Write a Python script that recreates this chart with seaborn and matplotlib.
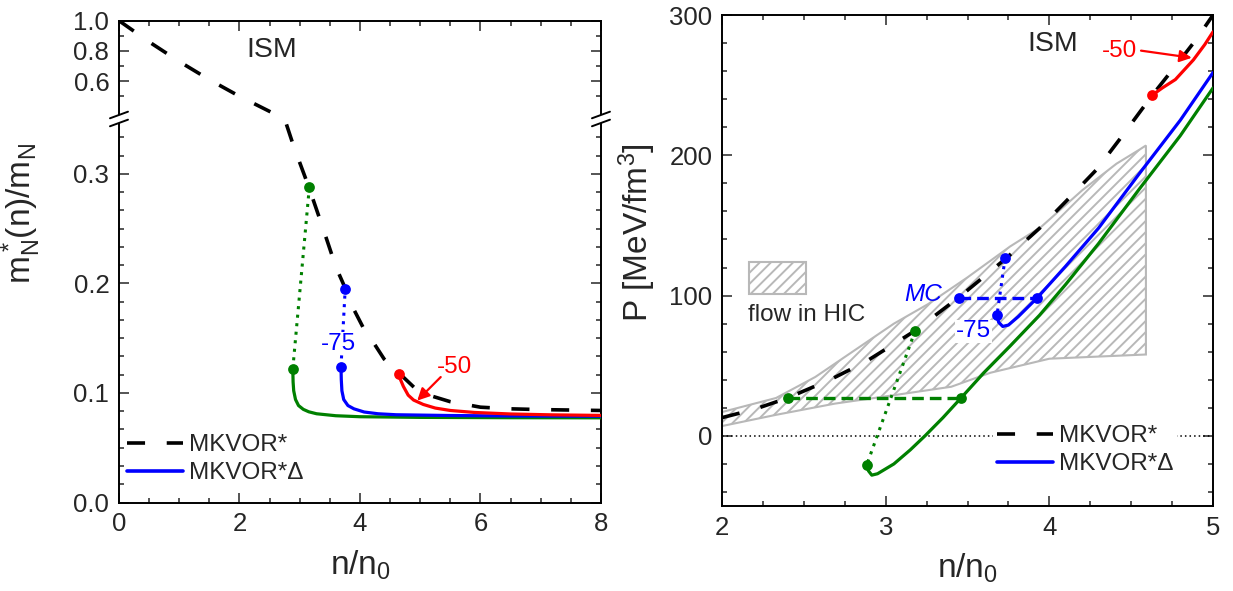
import numpy as np
import matplotlib
matplotlib.use("Agg")
import matplotlib.pyplot as plt
import seaborn as sns
from matplotlib.lines import Line2D
from matplotlib.patches import Rectangle
from matplotlib.ticker import FixedLocator, MultipleLocator

# ---------------- left panel: m*_N(n)/m_N ----------------
mass_n_mkvor = [0, 0.5, 1.0, 1.5, 2.0, 2.5, 2.75, 2.9, 3.15, 3.4, 3.6, 3.76, 3.9, 4.05,
                4.2, 4.4, 4.67, 4.9, 5.2, 5.5, 6.0, 6.5, 7.0, 8.0]
mass_mkvor = [1.0, 0.86, 0.73, 0.61, 0.50, 0.40, 0.35, 0.325, 0.288, 0.248, 0.215, 0.195,
              0.176, 0.16, 0.148, 0.131, 0.117, 0.105, 0.097, 0.092, 0.087, 0.0855, 0.0848, 0.084]

mass_n_green = [2.885, 2.89, 2.90, 2.93, 2.98, 3.06, 3.15, 3.28, 3.6, 4.0, 5.0, 6.5, 8.0]
mass_green = [0.122, 0.110, 0.102, 0.094, 0.0885, 0.085, 0.0828, 0.081, 0.0792, 0.0783,
              0.0777, 0.0774, 0.0773]
mass_n_blue = [3.685, 3.69, 3.70, 3.73, 3.80, 3.9, 4.07, 4.3, 4.6, 5.5, 6.5, 8.0]
mass_blue = [0.1237, 0.112, 0.102, 0.094, 0.0885, 0.0855, 0.0826, 0.081, 0.0801, 0.0794,
             0.079, 0.0788]
mass_n_red = [4.65, 4.67, 4.72, 4.80, 4.89, 5.05, 5.25, 5.5, 5.9, 6.5, 7.2, 8.0]
mass_red = [0.117, 0.1125, 0.106, 0.098, 0.0935, 0.0895, 0.0862, 0.084, 0.0822, 0.0808,
            0.080, 0.0795]

# jumps (dotted) between the branches
mass_jump_green_n = [2.885, 3.16]
mass_jump_green = [0.122, 0.288]
mass_jump_blue_n = [3.685, 3.755]
mass_jump_blue = [0.1237, 0.195]
mass_dot_red = (4.65, 0.117)

# ---------------- right panel: pressure P(n) ----------------
p_n_mkvor = [2.0, 2.2, 2.4, 2.66, 2.88, 3.18, 3.45, 3.73, 3.94, 4.1, 4.29, 4.44, 4.63, 4.80, 4.90, 5.0]
p_mkvor = [13, 19, 27, 40, 53, 75, 99, 126, 148, 167, 190, 213, 243, 268, 283, 300]

p_n_green = [2.884, 2.895, 2.915, 2.95, 3.05, 3.15, 3.24, 3.35, 3.46, 3.6, 3.76, 3.94,
             4.1, 4.3, 4.55, 4.8, 5.0]
p_green = [-20.7, -25, -28, -27, -20, -10, 0, 13, 27, 45, 64, 86, 108, 137, 176, 214, 248]
p_n_blue = [3.68, 3.69, 3.715, 3.75, 3.81, 3.925, 4.1, 4.3, 4.55, 4.8, 5.0]
p_blue = [86, 81, 78, 79, 85, 98.3, 121, 148, 187, 225, 259]
p_n_red = [4.63, 4.69, 4.77, 4.88, 4.95, 5.0]
p_red = [243, 248, 254, 268, 279, 288]

# Maxwell construction and jumps
p_mc_green_n = [2.40, 3.46]
p_mc_green = [27, 27]
p_jump_green_n = [3.18, 2.884]
p_jump_green = [75, -20.7]
p_mc_blue_n = [3.45, 3.925]
p_mc_blue = [98.3, 98.3]
p_jump_blue_n = [3.73, 3.68]
p_jump_blue = [127, 86]
p_dot_red = (4.63, 243)

# flow constraint from heavy-ion collisions
flow_up_n = [2.0, 2.33, 2.57, 2.81, 3.05, 3.26, 3.5, 3.76, 3.95, 4.2, 4.41, 4.55, 4.59]
flow_up = [17, 27, 42, 61, 80, 94, 113, 135, 149, 175, 194, 204, 207]
flow_lo_n = [2.0, 2.33, 2.69, 3.05, 3.40, 3.64, 4.0, 4.59]
flow_lo = [7, 15, 23, 29, 35, 45, 55, 58]

GREEN, BLUE, RED, GRAY = "#008000", "#0000ff", "#ff0000", "#b8b8b8"
DASH = (0, (5, 6))
DOTS = (0, (1, 1.8))
MCDASH = (0, (3.5, 1.8))

sns.set_style("ticks")
plt.rcParams["font.family"] = ["Liberation Sans", "DejaVu Sans"]
plt.rcParams["mathtext.fontset"] = "custom"
plt.rcParams["mathtext.rm"] = "Liberation Sans"
plt.rcParams["mathtext.it"] = "Liberation Sans:italic"
plt.rcParams["mathtext.default"] = "regular"
plt.rcParams["hatch.color"] = GRAY
plt.rcParams["hatch.linewidth"] = 1.4

fig = plt.figure(figsize=(12.33, 5.91), dpi=100)
ax1 = fig.add_axes([0.0965, 0.1497, 0.3909, 0.8153])
ax2 = fig.add_axes([0.5856, 0.1438, 0.3982, 0.8308])


def line(ax, x, y, color, ls="-", lw=2.3, z=3):
    sns.lineplot(x=x, y=y, ax=ax, color=color, lw=lw, linestyle=ls, sort=False,
                 estimator=None, zorder=z)


def dots(ax, x, y, color):
    sns.scatterplot(x=x, y=y, ax=ax, color=color, s=60, linewidth=0, zorder=6)


def style_axis(ax):
    ax.tick_params(which="both", direction="in", top=True, right=True,
                   width=1.1, labelsize=18.5, pad=7)
    ax.tick_params(which="major", length=7)
    ax.tick_params(which="minor", length=3.6)
    for sp in ax.spines.values():
        sp.set_linewidth(1.4)
        sp.set_color("black")


# ---------- left panel ----------
BRK, K = 0.35, 0.138


def fwd(y):
    y = np.asarray(y, dtype=float)
    return np.where(y <= BRK, y, BRK + (y - BRK) * K)


def inv(u):
    u = np.asarray(u, dtype=float)
    return np.where(u <= BRK, u, BRK + (u - BRK) / K)


ax1.set_yscale("function", functions=(fwd, inv))
line(ax1, mass_n_mkvor, mass_mkvor, "black", DASH, lw=2.6)
line(ax1, mass_n_green, mass_green, GREEN)
line(ax1, mass_n_blue, mass_blue, BLUE)
line(ax1, mass_n_red, mass_red, RED)
line(ax1, mass_jump_green_n, mass_jump_green, GREEN, DOTS, lw=2.2)
line(ax1, mass_jump_blue_n, mass_jump_blue, BLUE, DOTS, lw=2.2)
dots(ax1, mass_jump_green_n, mass_jump_green, GREEN)
dots(ax1, mass_jump_blue_n, mass_jump_blue, BLUE)
dots(ax1, [mass_dot_red[0]], [mass_dot_red[1]], RED)

ax1.set_xlim(0, 8)
ax1.set_ylim(0, 1.0)
ax1.xaxis.set_major_locator(MultipleLocator(2))
ax1.xaxis.set_minor_locator(MultipleLocator(0.5))
ax1.yaxis.set_major_locator(FixedLocator([0, 0.1, 0.2, 0.3, 0.6, 0.8, 1.0]))
ax1.set_yticklabels(["0.0", "0.1", "0.2", "0.3", "0.6", "0.8", "1.0"])
ax1.yaxis.set_minor_locator(FixedLocator(list(np.arange(0, 0.345, 0.1 / 6)) + [0.5, 0.7, 0.9]))
style_axis(ax1)

ax1.set_xlabel("n/n$_0$", fontsize=24)
ax1.set_ylabel("m$^*_N$(n)/m$_N$", fontsize=24)
ax1.xaxis.set_label_coords(0.5, -0.095)
ax1.yaxis.set_label_coords(-0.158, 0.60)

ax1.text(2.54, 0.805, "ISM", fontsize=20.5, ha="center", va="center")
ax1.text(3.64, 0.145, "-75", fontsize=17.5, color=BLUE, ha="center", va="center",
         bbox=dict(fc="white", ec="none", pad=0.5), zorder=7)
ax1.text(5.57, 0.124, "-50", fontsize=17.5, color=RED, ha="center", va="center")
ax1.annotate("", xy=(4.95, 0.093), xytext=(5.34, 0.1145),
             arrowprops=dict(arrowstyle="-|>", color=RED, lw=1.6, mutation_scale=18,
                             shrinkA=0, shrinkB=0))

h1 = [Line2D([], [], color="black", lw=2.6, ls=DASH), Line2D([], [], color=BLUE, lw=2.6)]
ax1.legend(h1, ["MKVOR*", "MKVOR*Δ"], loc="upper left", bbox_to_anchor=(0.009, 0.149),
           frameon=False, fontsize=17.5, handlelength=2.3, handletextpad=0.25,
           labelspacing=0.25, borderpad=0.15, borderaxespad=0)

# axis break marks
fw, fh = fig.get_size_inches() * fig.dpi
pos = ax1.get_position()
W, H = pos.width * fw, pos.height * fh
yb = float(fwd(BRK) / fwd(1.0))
for xa in (0, 1):
    hx, hy, sep = 9 / W, 3.3 / H, 4 / H
    ax1.fill([xa - hx, xa + hx, xa + hx, xa - hx],
             [yb - sep - hy, yb - sep + hy, yb + sep + hy, yb + sep - hy],
             color="white", transform=ax1.transAxes, clip_on=False, zorder=10, lw=0)
    for s in (-sep, sep):
        ax1.plot([xa - hx, xa + hx], [yb + s - hy, yb + s + hy], color="black", lw=1.4,
                 transform=ax1.transAxes, clip_on=False, zorder=11)

# ---------- right panel ----------
poly_x = flow_up_n + flow_lo_n[::-1]
poly_y = flow_up + flow_lo[::-1]
ax2.fill(poly_x, poly_y, facecolor="none", edgecolor=GRAY, hatch="///", lw=1.5, zorder=1)

ax2.axhline(0, color="black", ls=(0, (1, 2)), lw=1.1, zorder=1)
line(ax2, p_n_mkvor, p_mkvor, "black", DASH, lw=2.6)
line(ax2, p_n_green, p_green, GREEN)
line(ax2, p_n_blue, p_blue, BLUE)
line(ax2, p_n_red, p_red, RED)
line(ax2, p_mc_green_n, p_mc_green, GREEN, MCDASH, lw=2.4)
line(ax2, p_mc_blue_n, p_mc_blue, BLUE, MCDASH, lw=2.4)
line(ax2, p_jump_green_n, p_jump_green, GREEN, DOTS, lw=2.2)
line(ax2, p_jump_blue_n, p_jump_blue, BLUE, DOTS, lw=2.2)
dots(ax2, p_mc_green_n + p_jump_green_n, p_mc_green + p_jump_green, GREEN)
dots(ax2, p_mc_blue_n + p_jump_blue_n, p_mc_blue + p_jump_blue, BLUE)
dots(ax2, [p_dot_red[0]], [p_dot_red[1]], RED)

ax2.set_xlim(2, 5)
ax2.set_ylim(-50, 300)
ax2.xaxis.set_major_locator(MultipleLocator(1))
ax2.xaxis.set_minor_locator(MultipleLocator(0.25))
ax2.yaxis.set_major_locator(MultipleLocator(100))
ax2.yaxis.set_minor_locator(MultipleLocator(20))
style_axis(ax2)

ax2.set_xlabel("n/n$_0$", fontsize=24)
ax2.set_ylabel("P [MeV/fm$^3$]", fontsize=24)
ax2.xaxis.set_label_coords(0.5, -0.092)
ax2.yaxis.set_label_coords(-0.13, 0.558)

ax2.text(4.02, 279, "ISM", fontsize=20.5, ha="center", va="center")
ax2.text(3.228, 101, "MC", fontsize=17.5, color=BLUE, style="italic", ha="center", va="center")
ax2.text(3.536, 74.5, "-75", fontsize=17.5, color=BLUE, ha="center", va="center",
         bbox=dict(fc="white", ec="none", pad=0.5), zorder=7)
ax2.text(4.43, 274, "-50", fontsize=17.5, color=RED, ha="center", va="center")
ax2.annotate("", xy=(4.87, 269.5), xytext=(4.56, 274.6),
             arrowprops=dict(arrowstyle="-|>", color=RED, lw=1.6, mutation_scale=18,
                             shrinkA=0, shrinkB=0))

ax2.add_patch(Rectangle((0.055, 0.432), 0.115, 0.064, transform=ax2.transAxes,
                        facecolor="none", edgecolor=GRAY, hatch="///", lw=1.5))
ax2.text(0.052, 0.39, "flow in HIC", transform=ax2.transAxes, fontsize=17.5,
         ha="left", va="center")

h2 = [Line2D([], [], color="black", lw=2.6, ls=DASH), Line2D([], [], color=BLUE, lw=2.6)]
leg2 = ax2.legend(h2, ["MKVOR*", "MKVOR*Δ"], loc="upper left", bbox_to_anchor=(0.552, 0.172),
                  frameon=True, fontsize=17.5, handlelength=2.3, handletextpad=0.25,
                  labelspacing=0.25, borderpad=0.15, borderaxespad=0, fancybox=False)
leg2.get_frame().set_facecolor("white")
leg2.get_frame().set_edgecolor("none")
leg2.get_frame().set_alpha(1)

fig.savefig("out.png", dpi=100)
